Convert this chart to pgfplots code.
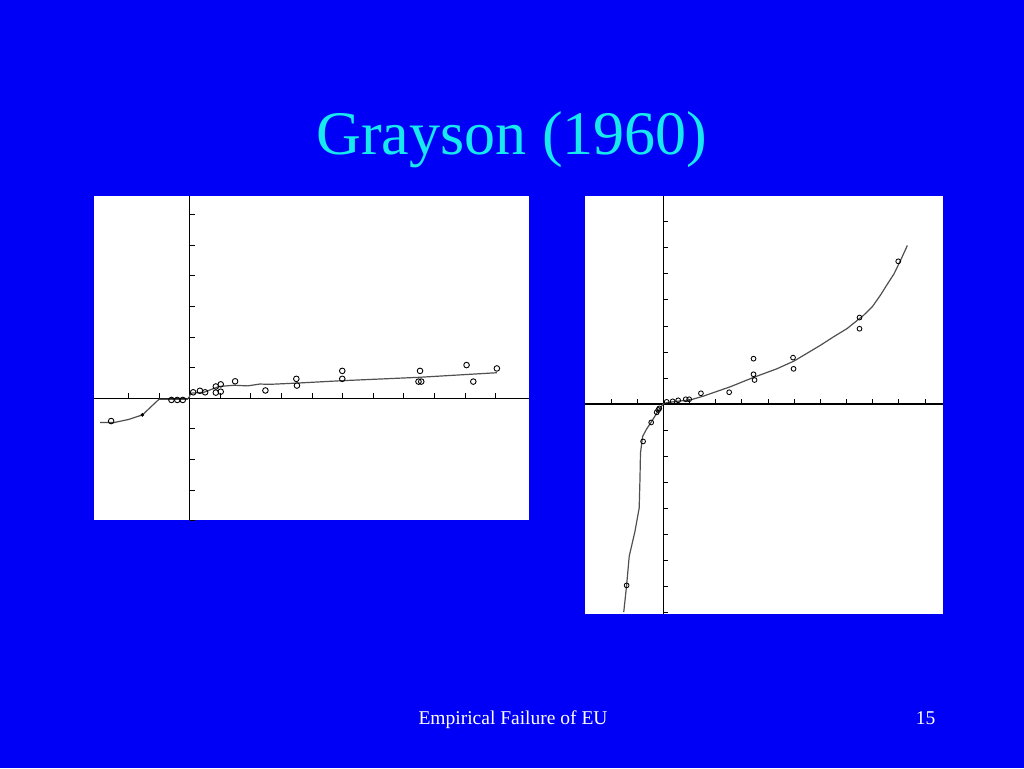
\documentclass[border=0pt]{standalone}
\usepackage{fontspec}
\setmainfont{Liberation Serif}
\usepackage{pgfplots}
\pgfplotsset{compat=1.18}
\definecolor{slideblue}{RGB}{0,0,246}
\definecolor{titlecyan}{RGB}{24,232,240}
\definecolor{curvegray}{RGB}{80,80,80}
\pgfplotsset{
  slidepanel/.style={
    anchor=south west, scale only axis,
    axis lines=middle,
    axis line style={black, line width=1.2pt, -},
    xticklabels={}, yticklabels={},
    tick style={black, line width=0.7pt},
    major tick length=5pt,
    tick align=inside,
    axis background/.style={fill=white},
  }
}
\begin{document}
\begin{tikzpicture}[x=1pt,y=1pt]
\fill[slideblue] (0,0) rectangle (1024,768);
\node[text=titlecyan, font=\fontsize{62}{70}\selectfont, anchor=base] at (512,613) {Grayson (1960)};
\node[text=white, font=\fontsize{19.5}{22}\selectfont, anchor=base west] at (415,43.7) {Empirical Failure of EU};
\node[text=white, font=\fontsize{19.5}{22}\selectfont, anchor=base east] at (939,43.7) {15};

% Left panel
\begin{axis}[slidepanel,
  at={(94pt,247.5pt)}, width=435pt, height=324pt,
  xmin=-3.12, xmax=11.09, ymin=-4.0, ymax=6.59,
  xtick={-2,-1,1,2,3,4,5,6,7,8,9,10},
  ytick={-4,-3,-2,-1,1,2,3,4,5,6}]
\addplot[curvegray, line width=1.2pt, mark=none] coordinates {
 (-2.92,-0.80) (-2.47,-0.80) (-2.0,-0.70) (-1.54,-0.55) (-1.0,-0.04)
 (-0.07,-0.04) (0.0,0.05) (0.04,0.16) (0.47,0.19) (0.96,0.38) (1.45,0.42)
 (1.9,0.40) (2.3,0.46) (2.62,0.45) (3.49,0.49) (4.99,0.57) (7.5,0.68) (10.04,0.83)};
\addplot[only marks, mark=o, mark size=2.8pt, black, mark options={line width=0.9pt}] coordinates {
 (-2.56,-0.75) (-0.59,-0.06) (-0.40,-0.06) (-0.22,-0.06) (0.12,0.19) (0.34,0.24)
 (0.51,0.19) (0.86,0.18) (0.86,0.38) (1.02,0.45) (1.02,0.21) (1.49,0.55)
 (2.48,0.25) (3.49,0.63) (3.51,0.41) (4.99,0.89) (4.99,0.63) (7.48,0.54)
 (7.57,0.54) (7.53,0.89) (9.05,1.08) (9.27,0.54) (10.04,0.97)};
\addplot[only marks, mark=*, mark size=1.6pt, black] coordinates {(-1.54,-0.55)};
\end{axis}

% Right panel
\begin{axis}[slidepanel,
  at={(585pt,154pt)}, width=357.7pt, height=418pt,
  xmin=-2.99, xmax=10.68, ymin=-8.07, ymax=7.99,
  xtick={-2,-1,1,2,3,4,5,6,7,8,9,10},
  ytick={-8,-7,-6,-5,-4,-3,-2,-1,1,2,3,4,5,6,7}]
\addplot[curvegray, line width=1.2pt, mark=none] coordinates {
 (-1.51,-8.0) (-1.40,-6.97) (-1.30,-5.85) (-1.08,-4.89) (-0.92,-4.0)
 (-0.89,-2.91) (-0.87,-1.89) (-0.79,-1.25) (-0.64,-0.97) (-0.45,-0.68)
 (-0.25,-0.36) (-0.13,-0.17) (0,0) (0.13,0.05) (0.5,0.1) (1.02,0.15)
 (1.53,0.3) (2.56,0.66) (3.45,1.02) (4.34,1.35) (5.0,1.65) (5.5,1.95)
 (6.0,2.25) (6.51,2.58) (7.03,2.9) (7.4,3.2) (7.66,3.41) (8.0,3.75)
 (8.30,4.18) (8.55,4.58) (8.82,5.0) (9.07,5.52) (9.33,6.09)};
\addplot[only marks, mark=o, mark size=2.4pt, black, mark options={line width=0.85pt}] coordinates {
 (-1.40,-6.97) (-0.77,-1.44) (-0.46,-0.71) (-0.25,-0.32) (-0.19,-0.23)
 (-0.15,-0.17) (0.13,0.08) (0.36,0.10) (0.57,0.14) (0.86,0.18) (0.99,0.18)
 (1.44,0.41) (2.52,0.45) (3.45,1.74) (3.45,1.14) (3.49,0.92) (4.96,1.78)
 (4.98,1.35) (7.5,3.32) (7.5,2.89) (8.98,5.48)};
\end{axis}
\end{tikzpicture}
\end{document}
